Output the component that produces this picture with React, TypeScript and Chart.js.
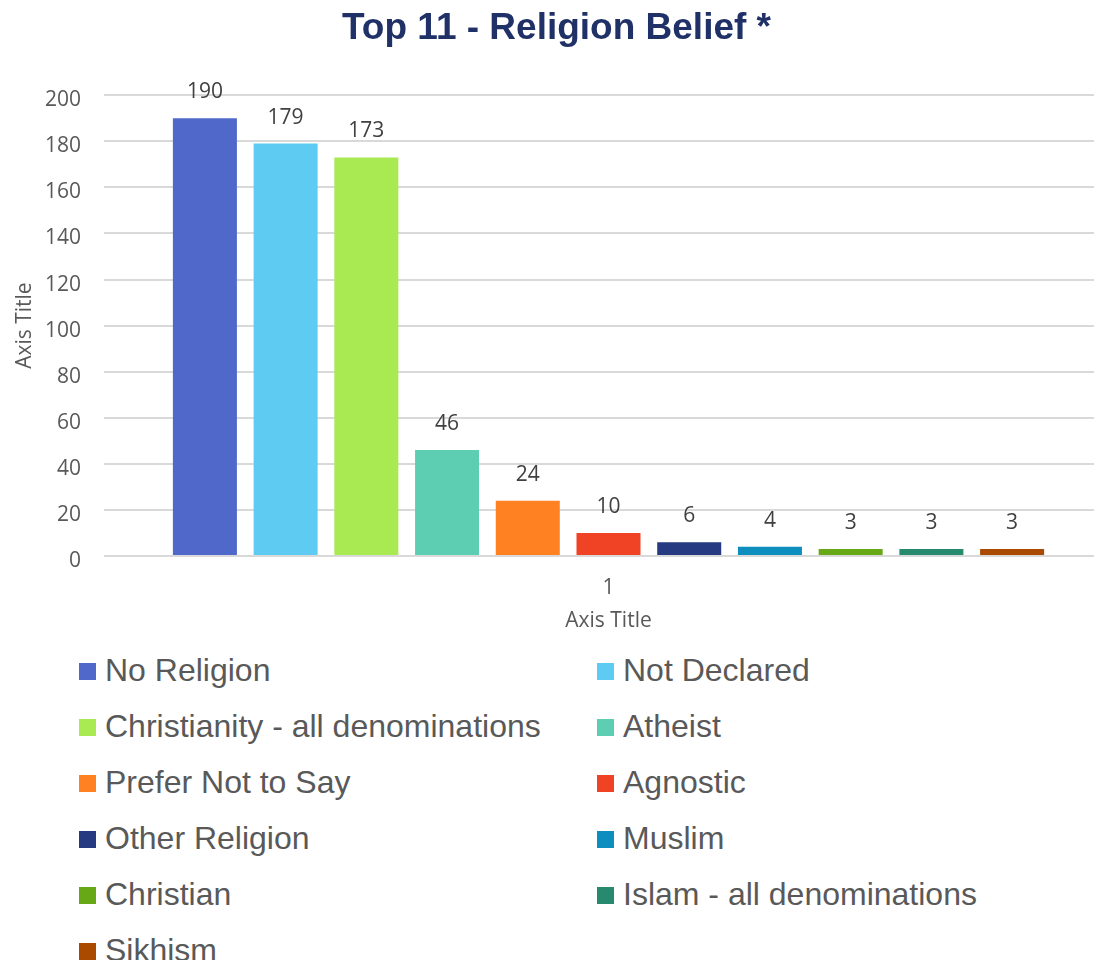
import React, { useEffect, useRef } from 'react';
import { Chart, registerables } from 'chart.js';

Chart.register(...registerables);

const chartTitle = 'Top 11 - Religion Belief *';
const categories = ['1'];
const seriesNames = [
  'No Religion',
  'Not Declared',
  'Christianity - all denominations',
  'Atheist',
  'Prefer Not to Say',
  'Agnostic',
  'Other Religion',
  'Muslim',
  'Christian',
  'Islam - all denominations',
  'Sikhism',
];
const seriesValues = [190, 179, 173, 46, 24, 10, 6, 4, 3, 3, 3];
const seriesColors = [
  '#4F68C9',
  '#5ECCF2',
  '#A9EA52',
  '#5DCEB1',
  '#FF8121',
  '#F04326',
  '#253A80',
  '#0E8DBF',
  '#67A817',
  '#278A6E',
  '#AA4A00',
];
const yMin = 0;
const yMax = 200;
const yStep = 20;
const xAxisTitle = 'Axis Title';
const yAxisTitle = 'Axis Title';

const AXIS_FONT = { family: '"Open Sans", "Noto Sans", sans-serif', size: 21 };
const TEXT_GREY = '#595959';

const valueLabels = {
  id: 'valueLabels',
  afterDatasetsDraw(chart: any) {
    const ctx = chart.ctx;
    ctx.save();
    ctx.font = '21px "Open Sans", "Noto Sans", sans-serif';
    ctx.fillStyle = '#404040';
    ctx.textAlign = 'center';
    ctx.textBaseline = 'middle';
    chart.data.datasets.forEach((ds: any, i: number) => {
      const meta = chart.getDatasetMeta(i);
      meta.data.forEach((el: any, j: number) => {
        ctx.fillText(String(ds.data[j]), el.x, el.y - 26);
      });
    });
    ctx.restore();
  },
};

export default function App() {
  const canvasRef = useRef<HTMLCanvasElement | null>(null);

  useEffect(() => {
    if (!canvasRef.current) return;
    const chart = new Chart(canvasRef.current, {
      type: 'bar',
      data: {
        labels: categories,
        datasets: seriesNames.map((name, i) => ({
          label: name,
          data: [seriesValues[i]],
          backgroundColor: seriesColors[i],
          borderWidth: 0,
          categoryPercentage: 0.88,
          barPercentage: 0.793,
        })),
      },
      options: {
        animation: false,
        responsive: false,
        devicePixelRatio: 1,
        layout: { padding: { left: 0, right: 1, top: 0, bottom: 2 } },
        plugins: {
          legend: { display: false },
          tooltip: { enabled: false },
          title: {
            display: true,
            text: chartTitle,
            color: '#203168',
            font: { family: '"Liberation Sans", Arial, sans-serif', size: 37, weight: 'bold' },
            padding: { top: 7, bottom: 43.8 },
          },
        },
        scales: {
          x: {
            grid: { display: false },
            border: { display: false },
            ticks: { color: TEXT_GREY, font: AXIS_FONT, padding: 11 },
            title: {
              display: true,
              text: xAxisTitle,
              color: TEXT_GREY,
              font: AXIS_FONT,
              padding: { top: 4, bottom: 4 },
            },
            afterFit: (s: any) => {
              s.height = 82;
            },
          },
          y: {
            min: yMin,
            max: yMax,
            ticks: {
              stepSize: yStep,
              color: TEXT_GREY,
              font: AXIS_FONT,
              padding: 23,
              labelOffset: 5,
            },
            grid: { color: '#D9D9D9', lineWidth: 2, drawTicks: false },
            border: { display: false },
            title: {
              display: true,
              text: yAxisTitle,
              color: TEXT_GREY,
              font: AXIS_FONT,
              padding: { top: 12, bottom: 0 },
            },
            afterFit: (s: any) => {
              s.width = 104;
            },
          },
        },
      },
      plugins: [valueLabels],
    });
    return () => chart.destroy();
  }, []);

  return (
    <div
      style={{
        position: 'absolute',
        left: 0,
        top: 0,
        width: 1094,
        height: 960,
        overflow: 'hidden',
        background: '#fff',
      }}
    >
      <canvas ref={canvasRef} width={1114} height={640} style={{ display: 'block' }} />
      {seriesNames.map((name, i) => {
        const col = i % 2;
        const row = Math.floor(i / 2);
        const cy = 670 + row * 56;
        return (
          <div
            key={name}
            style={{
              position: 'absolute',
              left: col === 0 ? 79 : 597,
              top: cy - 20,
              height: 40,
              display: 'flex',
              alignItems: 'center',
              whiteSpace: 'nowrap',
            }}
          >
            <span
              style={{
                display: 'inline-block',
                width: 17,
                height: 17,
                background: seriesColors[i],
                marginRight: 9,
                marginTop: 3,
              }}
            />
            <span
              style={{
                fontFamily: '"Liberation Sans", Arial, sans-serif',
                fontSize: 32,
                lineHeight: '40px',
                color: TEXT_GREY,
              }}
            >
              {name}
            </span>
          </div>
        );
      })}
    </div>
  );
}
